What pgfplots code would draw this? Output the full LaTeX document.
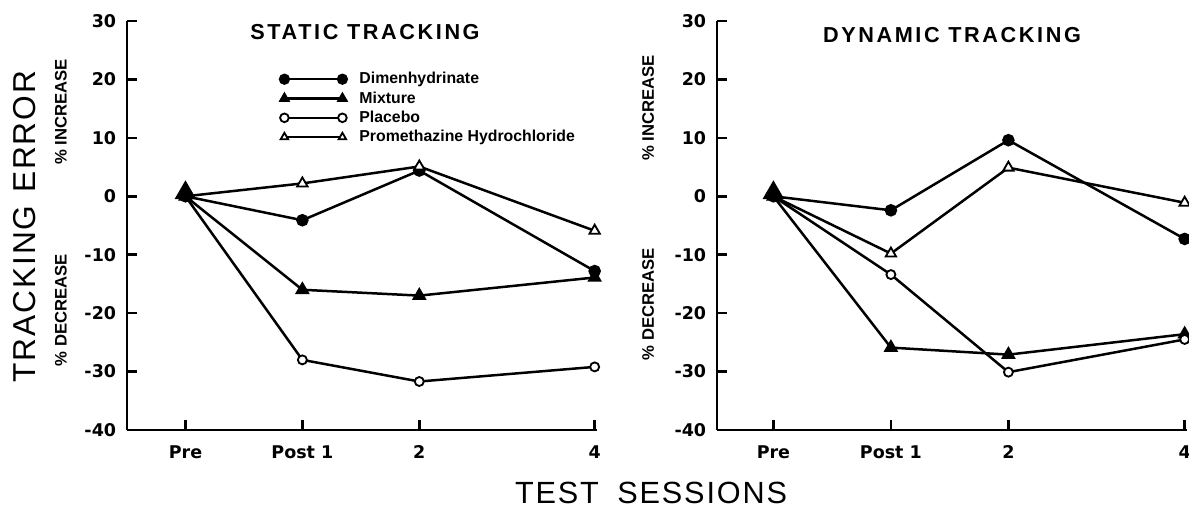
\documentclass[border=0pt]{standalone}
\usepackage{pgfplots}
\pgfplotsset{compat=1.18}
\usepackage{fontspec}
\setmainfont{Liberation Sans}
\newfontfamily\tickfont{DejaVu Sans}
\newfontfamily\titlefont[LetterSpace=12]{Liberation Sans}
\newfontfamily\bigfont[LetterSpace=6]{Liberation Sans}

% Static tracking
\pgfplotstableread{
x    dimen  mixt   plac   prom
0    0      0      0      0
1   -4.1   -16.0  -28.0    2.2
2    4.4   -17.0  -31.7    5.1
3.5 -12.8  -13.9  -29.2   -5.9
}\statictab
% Dynamic tracking
\pgfplotstableread{
x    dimen  mixt   plac   prom
0    0      0      0      0
1   -2.4   -25.9  -13.4   -9.8
2    9.6   -27.1  -30.1    4.9
3.5 -7.3   -23.6  -24.5   -1.1
}\dynamictab

\pgfplotsset{
  tracking/.style={
    scale only axis, width=282pt, height=245.4pt, anchor=south west,
    ymin=-40, ymax=30,
    axis x line=bottom, axis y line=left,
    axis line style={line width=1.5pt, -},
    xtick={0,1,2,3.5}, xticklabels={Pre, Post 1, 2, 4},
    ytick={-40,-30,...,30}, yticklabels={-40,-30,-20,-10,0,10,20,30},
    tick align=inside, major tick length=6pt,
    tick style={line width=1.5pt, black},
    ticklabel style={font=\tickfont\bfseries\fontsize{10.5}{11}\selectfont},
    xticklabel style={yshift=-6pt},
    yticklabel style={xshift=-3pt},
    clip=false,
    every axis plot/.append style={line width=1.5pt, black},
  },
  dimen/.style={mark=*, mark size=3pt},
  mixt/.style={mark=triangle*, mark size=3.6pt},
  plac/.style={mark=*, mark size=2.7pt, mark options={fill=white, line width=1.1pt}},
  prom/.style={mark=triangle*, mark size=3.6pt, mark options={fill=white, line width=1.1pt}},
  pre/.style={only marks, mark=triangle*, mark size=6pt, forget plot},
}

\begin{document}
\begin{tikzpicture}
\path[use as bounding box] (0,0) rectangle (713.4pt,304.8pt);

\begin{axis}[tracking, at={(76.2pt,46.8pt)}, xmin=-0.5, xmax=3.52,
    legend style={at={(0.325,0.878)}, anchor=north west, draw=none, fill=none,
      inner sep=0pt, font=\bfseries\fontsize{9.5}{11}\selectfont, row sep=2pt,
      nodes={inner sep=0.6pt},
      /tikz/every odd column/.append style={column sep=7pt}},
    legend cell align=left,
    legend image code/.code={\draw[#1, mark size=2.6pt, mark repeat=1, mark phase=1] plot coordinates {(0pt,0pt) (34.8pt,0pt)};}]
\addplot[dimen] table[x=x, y=dimen] {\statictab};
\addplot[mixt] table[x=x, y=mixt] {\statictab};
\addplot[plac] table[x=x, y=plac] {\statictab};
\addplot[prom] table[x=x, y=prom] {\statictab};
\addplot[pre] coordinates {(0,0.6)};
\legend{Dimenhydrinate, Mixture, Placebo, Promethazine Hydrochloride}
\end{axis}

\begin{axis}[tracking, at={(430.2pt,46.8pt)}, xmin=-0.48, xmax=3.52]
\addplot[dimen] table[x=x, y=dimen] {\dynamictab};
\addplot[mixt] table[x=x, y=mixt] {\dynamictab};
\addplot[plac] table[x=x, y=plac] {\dynamictab};
\addplot[prom] table[x=x, y=prom] {\dynamictab};
\addplot[pre] coordinates {(0,0.6)};
\end{axis}

\node[rotate=90, font=\bigfont\fontsize{19}{21}\selectfont] at (15pt,168.8pt) {TRACKING\hspace{0.4em}ERROR};
\node[anchor=base, inner sep=0pt, font=\bigfont\fontsize{18.4}{20}\selectfont] at (390.6pt,3pt) {TEST\hspace{0.6em}SESSIONS};
\node[font=\titlefont\bfseries\fontsize{13}{15}\selectfont] at (219pt,285.6pt) {STATIC\hspace{0.4em}TRACKING};
\node[font=\titlefont\bfseries\fontsize{13}{15}\selectfont] at (571.2pt,283.8pt) {DYNAMIC\hspace{0.4em}TRACKING};
\node[rotate=90, font=\bfseries\fontsize{10}{12}\selectfont] at (36.6pt,237.6pt) {\% INCREASE};
\node[rotate=90, font=\bfseries\fontsize{10}{12}\selectfont] at (36.6pt,118.8pt) {\% DECREASE};
\node[rotate=90, font=\bfseries\fontsize{10}{12}\selectfont] at (388.8pt,240pt) {\% INCREASE};
\node[rotate=90, font=\bfseries\fontsize{10}{12}\selectfont] at (388.8pt,122.4pt) {\% DECREASE};
\end{tikzpicture}
\end{document}
